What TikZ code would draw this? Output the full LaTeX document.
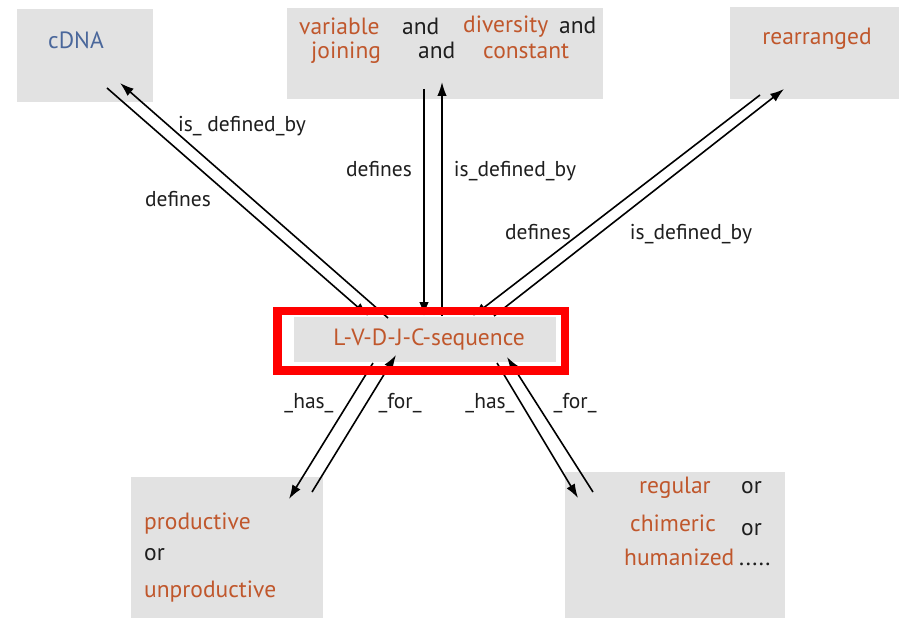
\documentclass[tikz,border=0pt]{standalone}
\usepackage{fontspec}
\setmainfont{PT Sans}
\usetikzlibrary{arrows.meta}
\definecolor{boxgray}{HTML}{E2E2E2}
\definecolor{rust}{HTML}{C0572C}
\definecolor{dnablue}{HTML}{4A679B}
\definecolor{ink}{HTML}{1E1E1E}
\definecolor{frame}{HTML}{FF0000}
\tikzset{
  box/.style={fill=boxgray, draw=none, inner sep=0pt},
  term/.style={text=rust, inner sep=0pt, anchor=base west, font=\fontsize{23.5}{26}\selectfont},
  word/.style={text=ink, inner sep=0pt, anchor=base west, font=\fontsize{23.5}{26}\selectfont},
  rel/.style={text=ink, inner sep=0pt, anchor=base, font=\fontsize{21.5}{24}\selectfont},
  link/.style={draw=black, line width=1.6pt, -{Latex[length=14pt,width=9.5pt]}},
}
\begin{document}
\begin{tikzpicture}[x=1pt,y=-1pt]
\useasboundingbox[fill=white] (0,0) rectangle (899,628);

% concept boxes
\node[box, minimum width=136pt, minimum height=93pt] (cdna) at (85,55.5) {};
\node[box, minimum width=316pt, minimum height=91pt] (parts) at (445,53.5) {};
\node[box, minimum width=169pt, minimum height=92pt] (rearr) at (814.5,53) {};
\node[box, minimum width=192pt, minimum height=141pt] (prod) at (227,547.5) {};
\node[box, minimum width=220pt, minimum height=146pt] (kind) at (675,545) {};
\node[box, minimum width=262pt, minimum height=45pt] (seq) at (425,339.5) {};

% box texts
\node[term, text=dnablue, anchor=base] (tcdna) at (76,49) {cDNA};
\node[term] (tvar) at (299,35) {variable};
\node[word] (tand1) at (402,35) {and};
\node[term] (tdiv) at (463,33) {diversity};
\node[word] (tand2) at (559,34) {and};
\node[term] (tjoin) at (311,59) {joining};
\node[word] (tand3) at (418,59) {and};
\node[term] (tconst) at (483,59) {constant};
\node[term, anchor=base] (trearr) at (817,45) {rearranged};
\node[term, anchor=base] (tseq) at (429,345) {L-V-D-J-C-sequence};
\node[term] (tprod) at (144,529) {productive};
\node[word] (tor1) at (144,560) {or};
\node[term] (tunprod) at (144,597) {unproductive};
\node[term] (treg) at (639,493) {regular};
\node[word] (tor2) at (741,493) {or};
\node[term] (tchim) at (630,531) {chimeric};
\node[word] (tor3) at (741,535) {or};
\node[term] (thum) at (624,565) {humanized};
\node[word] (tdots) at (739,565) {.....};

% connector end points
\coordinate (c1) at (107,88);   \coordinate (s1) at (368,316);
\coordinate (s2) at (388,318);  \coordinate (c2) at (120,83);
\coordinate (p1) at (424,89);   \coordinate (s3) at (424,316);
\coordinate (s4) at (442,316);  \coordinate (p2) at (442,82);
\coordinate (r1) at (760,95);   \coordinate (s5) at (473,316);
\coordinate (s6) at (494,316);  \coordinate (r2) at (784,89);
\coordinate (s7) at (373,363);  \coordinate (q1) at (289,499);
\coordinate (q2) at (312,492);  \coordinate (s8) at (396,355);
\coordinate (s9) at (497,363);  \coordinate (k1) at (578,498);
\coordinate (k2) at (593,492);  \coordinate (s10) at (507,357);

% relations
\draw[link] (c1) -- (s1);
\draw[link] (s2) -- (c2);
\draw[link] (p1) -- (s3);
\draw[link] (s4) -- (p2);
\draw[link] (r1) -- (s5);
\draw[link] (s6) -- (r2);
\draw[link] (s7) -- (q1);
\draw[link] (q2) -- (s8);
\draw[link] (s9) -- (k1);
\draw[link] (k2) -- (s10);

% highlight frame around the central concept
\node[draw=frame, line width=8.5pt, minimum width=287.5pt, minimum height=59.5pt, inner sep=0pt] (hl) at (421.25,340.75) {};

% relation labels
\node[rel] (l1) at (242,132) {is\_ defined\_by};
\node[rel] (l2) at (178,207) {defines};
\node[rel] (l3) at (379,177) {defines};
\node[rel] (l4) at (515,177) {is\_defined\_by};
\node[rel] (l5) at (538,240) {defines};
\node[rel] (l6) at (691,240) {is\_defined\_by};
\node[rel] (l7) at (309,408) {\_has\_};
\node[rel] (l8) at (400,408) {\_for\_};
\node[rel] (l9) at (490,408) {\_has\_};
\node[rel] (l10) at (575,408) {\_for\_};
\end{tikzpicture}
\end{document}
